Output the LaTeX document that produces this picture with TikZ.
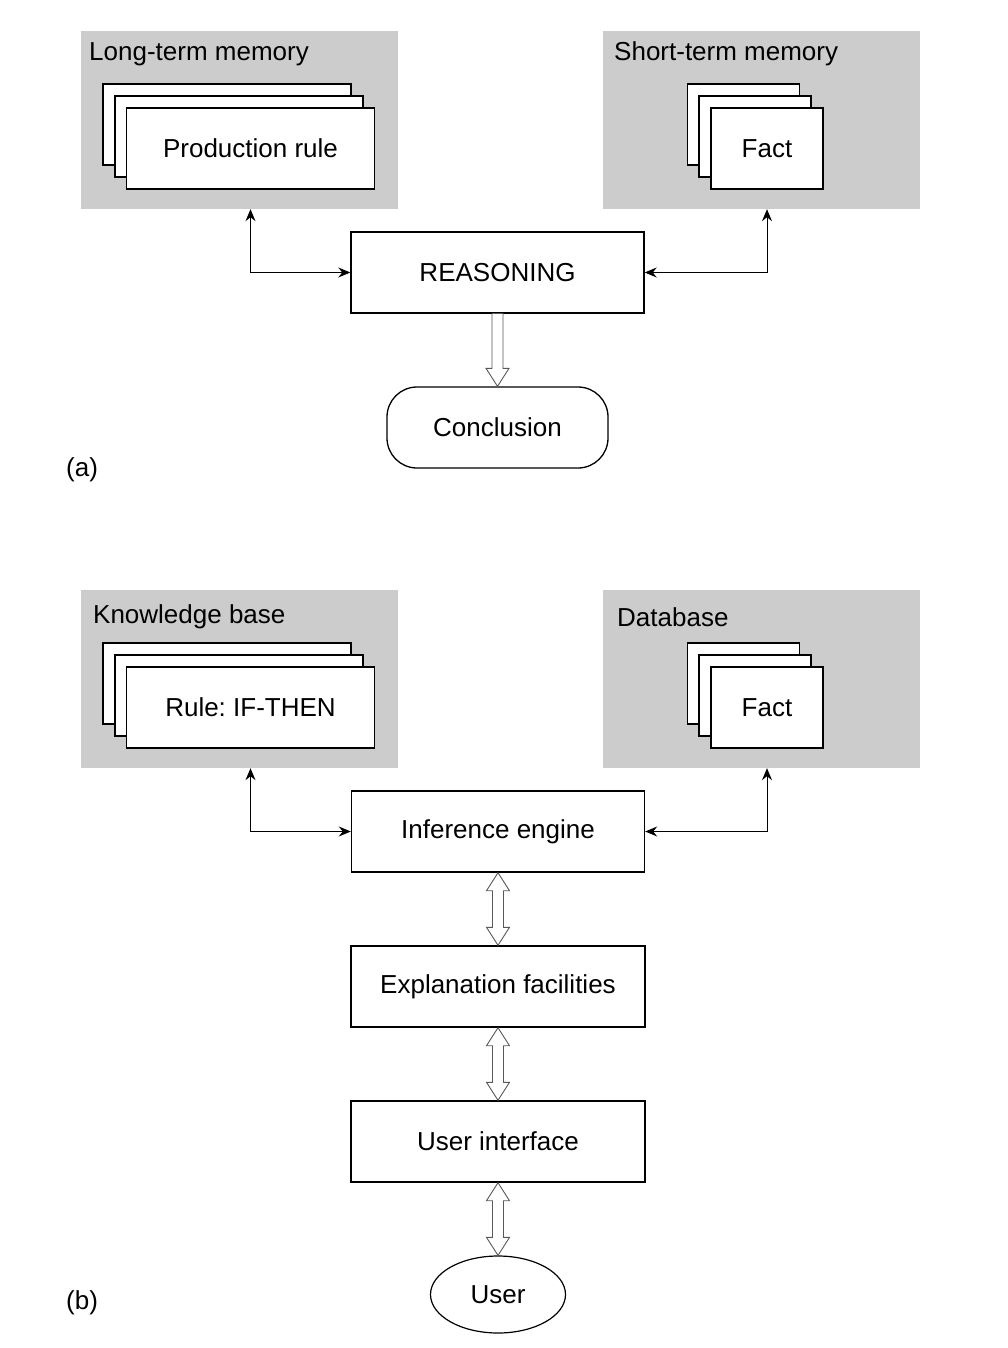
\documentclass[tikz,border=0pt]{standalone}
\usepackage{fontspec}
\setmainfont{Liberation Sans}
\usetikzlibrary{arrows.meta,calc,shapes.geometric}
\definecolor{memgray}{RGB}{204,204,204}
\frenchspacing
\newcommand{\hollowdown}[2]{%
  \draw[hollow] ($(#1.south)+(-5.5,0)$) -- ($(#2.north)+(-5.5,-18)$) -- ($(#2.north)+(-11.5,-18)$) -- (#2.north)
    -- ($(#2.north)+(11.5,-18)$) -- ($(#2.north)+(5.5,-18)$) -- ($(#1.south)+(5.5,0)$);}
\newcommand{\hollowboth}[2]{%
  \draw[hollow] (#1.south) -- ($(#1.south)+(11.5,18)$) -- ($(#1.south)+(5.5,18)$) -- ($(#2.north)+(5.5,-18)$)
    -- ($(#2.north)+(11.5,-18)$) -- (#2.north) -- ($(#2.north)+(-11.5,-18)$) -- ($(#2.north)+(-5.5,-18)$)
    -- ($(#1.south)+(-5.5,18)$) -- ($(#1.south)+(-11.5,18)$) -- cycle;}
\begin{document}
\begin{tikzpicture}[x=1pt,y=-1pt,
  every node/.style={font=\fontsize{26}{31}\selectfont},
  mem/.style={fill=memgray, draw=none, minimum width=317pt, minimum height=178pt, inner sep=0pt},
  card/.style={draw, line width=1.4pt, fill=white, minimum width=248pt, minimum height=81pt, inner sep=0pt},
  smallcard/.style={card, minimum width=112pt},
  proc/.style={draw, line width=1.4pt, fill=white, minimum width=293pt, minimum height=81pt, inner sep=0pt},
  lbl/.style={anchor=base west, inner sep=0pt},
  link/.style={line width=1pt, {Stealth[length=12pt,width=10pt,inset=4pt]}-{Stealth[length=12pt,width=10pt,inset=4pt]}},
  hollow/.style={draw=black!65, line width=0.9pt, fill=white, line join=miter}]
\useasboundingbox (0,0) rectangle (1008,1348);

% ---------- (a) ----------
\node[mem] (ltm) at (239.5,120) {};
\node[mem] (stm) at (761,120) {};
\node[lbl] (ltmlbl) at (89,61) {Long-term memory};
\node[lbl] (stmlbl) at (614,61) {Short-term memory};
\node[card] (pr3) at (227,124.5) {};
\node[card] (pr2) at (239,136.5) {};
\node[card] (pr1) at (250.5,148.5) {Production rule};
\node[smallcard] (fa3) at (743.5,124.5) {};
\node[smallcard] (fa2) at (755,136.5) {};
\node[smallcard] (fa1) at (767,148.5) {Fact};
\node[proc] (reason) at (497.5,272.5) {REASONING};
\node[draw, line width=1.3pt, rounded corners=30pt, minimum width=221pt, minimum height=81pt, inner sep=0pt] (concl) at (497.5,427.5) {Conclusion};
\node[lbl] (alabel) at (66,476) {(a)};

\draw[link] (pr1.south |- ltm.south) |- (reason.west);
\draw[link] (fa1.south |- stm.south) |- (reason.east);
\hollowdown{reason}{concl}

% ---------- (b) ----------
\node[mem] (kb) at (239.5,679) {};
\node[mem] (db) at (761,679) {};
\node[lbl] (kblbl) at (93,623) {Knowledge base};
\node[lbl] (dblbl) at (617,626) {Database};
\node[card] (ru3) at (227,683.5) {};
\node[card] (ru2) at (239,695.5) {};
\node[card] (ru1) at (250.5,707.5) {Rule: IF-THEN};
\node[smallcard] (fb3) at (743.5,683.5) {};
\node[smallcard] (fb2) at (755,695.5) {};
\node[smallcard] (fb1) at (767,707.5) {Fact};
\node[proc] (infer) at (498,831.5) {Inference engine};
\node[proc, minimum width=294pt] (expl) at (498,986.5) {Explanation facilities};
\node[proc, minimum width=294pt] (ui) at (498,1141.5) {User interface};
\node[draw, ellipse, line width=1.2pt, minimum width=135pt, minimum height=77pt, inner sep=0pt] (user) at (498,1294.5) {User};
\node[lbl] (blabel) at (66,1309) {(b)};

\draw[link] (ru1.south |- kb.south) |- (infer.west);
\draw[link] (fb1.south |- db.south) |- (infer.east);
\hollowboth{infer}{expl}
\hollowboth{expl}{ui}
\hollowboth{ui}{user}
\end{tikzpicture}
\end{document}
